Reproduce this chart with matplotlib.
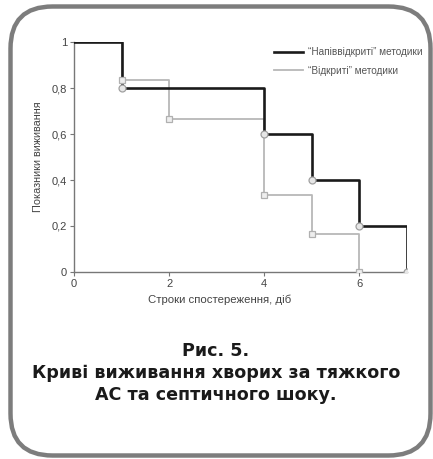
import matplotlib
matplotlib.use("Agg")
import matplotlib.pyplot as plt
from matplotlib.patches import FancyBboxPatch

# Data
semi_t = [0, 1, 4, 5, 6, 7]
semi_s = [1.0, 0.8, 0.6, 0.4, 0.2, 0.0]
open_t = [0, 1, 2, 4, 5, 6]
open_s = [1.0, 0.833, 0.667, 0.333, 0.167, 0.0]
y_ticks = [0, 0.2, 0.4, 0.6, 0.8, 1.0]
y_ticklabels = ["0", "0,2", "0,4", "0,6", "0,8", "1"]
x_ticks = [0, 2, 4, 6]
legend_labels = ["\u201cНапіввідкриті\u201d методики", "\u201cВідкриті\u201d методики"]
xlabel = "Строки спостереження, діб"
ylabel = "Показники виживання"
caption = ["Рис. 5.", "Криві виживання хворих за тяжкого", "АС та септичного шоку."]

plt.rcParams["font.family"] = ["Liberation Sans", "DejaVu Sans"]

W, H = 433, 459
fig = plt.figure(figsize=(W / 100, H / 100), dpi=100)
fig.patch.set_facecolor("white")

# frame layer
bg = fig.add_axes([0, 0, 1, 1])
bg.set_xlim(0, W)
bg.set_ylim(H, 0)
bg.axis("off")
bg.add_patch(FancyBboxPatch((10.5, 6.5), 420, 449,
                            boxstyle="round,pad=0,rounding_size=42",
                            fc="white", ec="#7d7d7d", lw=3.2))

ax = fig.add_axes([74 / W, 1 - 272 / H, (407 - 74) / W, (272 - 42) / H])
ax.set_facecolor("none")

ax.step(open_t + [6], open_s + [0.0], where="post", color="#b8b8b8", lw=1.3, zorder=2,
        label=legend_labels[1])
ax.step(semi_t + [7], semi_s + [0.0], where="post", color="#1a1a1a", lw=1.9, zorder=3,
        label=legend_labels[0])
ax.plot(semi_t[1:], semi_s[1:], "o", ms=5, mfc="#e6e6e6", mec="#a0a0a0", mew=0.9, zorder=4)
ax.plot(open_t[1:], open_s[1:], "s", ms=4.5, mfc="#eeeeee", mec="#b0b0b0", mew=0.9, zorder=4)

ax.set_xlim(0, 7)
ax.set_ylim(0, 1)
ax.set_yticks(y_ticks)
ax.set_yticklabels(y_ticklabels)
ax.set_xticks(x_ticks)
for s in ["top", "right"]:
    ax.spines[s].set_visible(False)
for s in ["left", "bottom"]:
    ax.spines[s].set_color("#777777")
    ax.spines[s].set_linewidth(1.0)
ax.tick_params(axis="both", colors="#777777", labelcolor="#444444", labelsize=8,
               length=3, width=0.8, pad=2)
ax.set_ylabel(ylabel, fontsize=7.8, color="#444444")
ax.yaxis.set_label_coords((43 - 74) / (407 - 74), (272 - 157) / (272 - 42))
ax.set_xlabel(xlabel, fontsize=8.2, color="#444444")
ax.xaxis.set_label_coords((220 - 74) / (407 - 74), -0.1)

h, l = ax.get_legend_handles_labels()
leg = ax.legend(h[::-1], l[::-1], loc="upper left", bbox_to_anchor=(0.59, 0.995),
                frameon=False, fontsize=7.2, handlelength=2.9, handletextpad=0.45,
                labelspacing=0.85, borderaxespad=0)
for t in leg.get_texts():
    t.set_color("#555555")

ys = [351, 373, 395]
for txt, y in zip(caption, ys):
    fig.text(216 / W, 1 - y / H, txt, ha="center", va="center", fontsize=12.6,
             fontweight="bold", family=["DejaVu Sans"], color="#1a1a1a")

fig.savefig("out.png", dpi=100)
